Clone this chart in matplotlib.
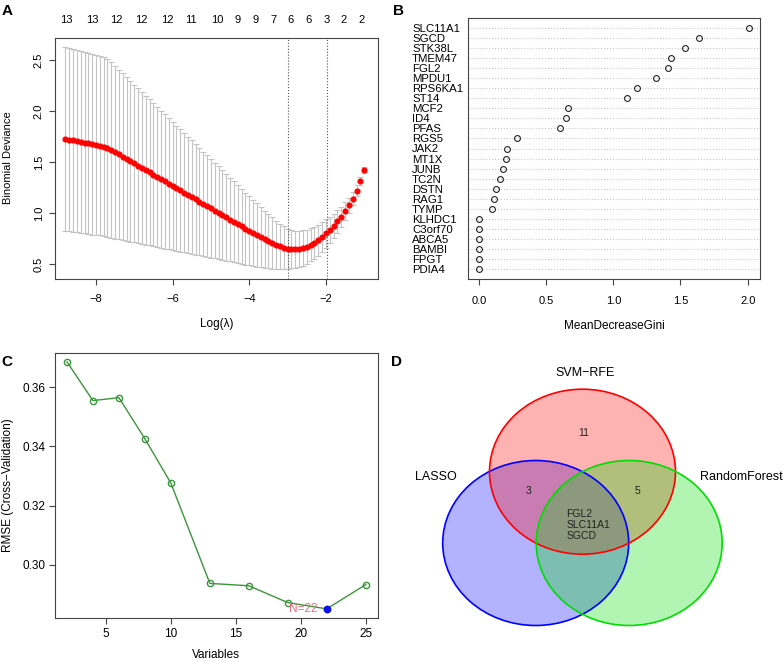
import numpy as np
import matplotlib
matplotlib.use('Agg')
import matplotlib.pyplot as plt
from matplotlib.patches import Ellipse

plt.rcParams['font.family'] = ['Liberation Sans', 'DejaVu Sans']

# ---- A: LASSO cross-validation ----
log_lambda = [-8.8, -8.7, -8.6, -8.5, -8.4, -8.3, -8.2, -8.1, -8.0,
              -7.9, -7.8, -7.7, -7.6, -7.5, -7.4, -7.3, -7.2, -7.1, -7.0,
              -6.9, -6.8, -6.7, -6.6, -6.5, -6.4, -6.3, -6.2, -6.1, -6.0,
              -5.9, -5.8, -5.7, -5.6, -5.5, -5.4, -5.3, -5.2, -5.1, -5.0,
              -4.9, -4.8, -4.7, -4.6, -4.5, -4.4, -4.3, -4.2, -4.1, -4.0,
              -3.9, -3.8, -3.7, -3.6, -3.5, -3.4, -3.3, -3.2, -3.1, -3.0,
              -2.9, -2.8, -2.7, -2.6, -2.5, -2.4, -2.3, -2.2, -2.1, -2.0,
              -1.9, -1.8, -1.7, -1.6, -1.5, -1.4, -1.3, -1.2, -1.1, -1.0]
cv_mean = [1.725, 1.718, 1.711, 1.704, 1.697, 1.690, 1.683, 1.675, 1.668,
           1.660, 1.650, 1.636, 1.617, 1.596, 1.574, 1.552, 1.530, 1.508, 1.486,
           1.464, 1.442, 1.420, 1.398, 1.376, 1.354, 1.332, 1.310, 1.288, 1.266,
           1.244, 1.222, 1.200, 1.178, 1.156, 1.134, 1.112, 1.090, 1.068, 1.046,
           1.024, 1.002, 0.980, 0.958, 0.936, 0.914, 0.892, 0.870, 0.848, 0.826,
           0.805, 0.784, 0.763, 0.743, 0.723, 0.705, 0.688, 0.673, 0.660, 0.650,
           0.644, 0.643, 0.648, 0.657, 0.670, 0.687, 0.708, 0.733, 0.765, 0.800,
           0.835, 0.875, 0.918, 0.965, 1.020, 1.075, 1.140, 1.220, 1.310, 1.420]
cv_se = [0.900, 0.898, 0.896, 0.894, 0.892, 0.890, 0.888, 0.886, 0.883,
         0.880, 0.878, 0.875, 0.861, 0.846, 0.832, 0.817, 0.803, 0.788, 0.774,
         0.759, 0.745, 0.730, 0.716, 0.701, 0.687, 0.672, 0.658, 0.643, 0.629,
         0.614, 0.600, 0.585, 0.571, 0.556, 0.542, 0.527, 0.513, 0.498, 0.484,
         0.469, 0.455, 0.440, 0.426, 0.411, 0.397, 0.382, 0.368, 0.353, 0.339,
         0.324, 0.310, 0.295, 0.281, 0.266, 0.252, 0.237, 0.223, 0.208, 0.195,
         0.188, 0.182, 0.177, 0.172, 0.167, 0.162, 0.157, 0.152, 0.146, 0.140,
         0.130, 0.120, 0.110, 0.098, 0.086, 0.074, 0.062, 0.050, 0.040, 0.030]
lambda_min = -3.0
lambda_1se = -1.98
nz_pos = [-8.77, -8.10, -7.46, -6.81, -6.15, -5.52, -4.84, -4.31, -3.84,
          -3.38, -2.93, -2.45, -1.99, -1.53, -1.07]
nz_count = [13, 13, 12, 12, 12, 11, 10, 9, 9, 7, 6, 6, 3, 2, 2]

# ---- B: random forest importance ----
genes = ['SLC11A1', 'SGCD', 'STK38L', 'TMEM47', 'FGL2', 'MPDU1', 'RPS6KA1',
         'ST14', 'MCF2', 'ID4', 'PFAS', 'RGS5', 'JAK2', 'MT1X', 'JUNB', 'TC2N',
         'DSTN', 'RAG1', 'TYMP', 'KLHDC1', 'C3orf70', 'ABCA5', 'BAMBI', 'FPGT',
         'PDIA4']
gini = [2.01, 1.64, 1.53, 1.43, 1.41, 1.32, 1.18, 1.10, 0.66, 0.65, 0.60,
        0.28, 0.21, 0.20, 0.18, 0.156, 0.126, 0.114, 0.094, 0.0, 0.0, 0.0,
        0.0, 0.0, 0.0]

# ---- C: SVM-RFE ----
n_vars = [2, 4, 6, 8, 10, 13, 16, 19, 22, 25]
rmse = [0.3686, 0.3555, 0.3565, 0.3426, 0.3276, 0.2937, 0.2929, 0.2872,
        0.2851, 0.2933]
best_n = 22

# ---- D: Venn ----
set_names = ['SVM-RFE', 'LASSO', 'RandomForest']
only_svm = '11'
svm_lasso = '3'
svm_rf = '5'
common = ['FGL2', 'SLC11A1', 'SGCD']

W, H = 783, 662
fig = plt.figure(figsize=(W / 100, H / 100), dpi=100)


def fx(x):
    return x / W


def fy(y):
    return 1 - y / H


def box(l, t, r, b):
    return [fx(l), fy(b), (r - l) / W, (b - t) / H]


spine_col = '#444444'

# Panel A
axA = fig.add_axes(box(55, 38, 378, 279))
axA.errorbar(log_lambda, cv_mean, yerr=cv_se, fmt='none', ecolor='#c4c4c4',
             elinewidth=0.8, capsize=2.0, capthick=0.8)
axA.plot(log_lambda, cv_mean, 'o', color='red', ms=3.4, mec='red', zorder=3)
axA.axvline(lambda_min, color='#555555', ls=':', lw=0.8)
axA.axvline(lambda_1se, color='#555555', ls=':', lw=0.8)
axA.set_xlim(-9.07, -0.64)
axA.set_ylim(0.353, 2.716)
axA.set_xticks([-8, -6, -4, -2])
axA.set_yticks([0.5, 1.0, 1.5, 2.0, 2.5])
axA.set_yticklabels(['0.5', '1.0', '1.5', '2.0', '2.5'], rotation=90, va='center')
axA.tick_params(labelsize=8, length=4, color=spine_col, pad=4)
axA.tick_params(axis='x', pad=7)
sec = axA.secondary_xaxis('top')
sec.set_xticks(nz_pos)
sec.set_xticklabels([str(v) for v in nz_count])
sec.tick_params(length=0, pad=9, labelsize=8)
sec.spines['top'].set_visible(False)
for s in axA.spines.values():
    s.set_color(spine_col)
fig.text(fx(216.5), fy(324), 'Log(\u03bb)', ha='center', va='center', fontsize=8.5)
fig.text(fx(8), fy(158), 'Binomial Deviance', ha='center', va='center',
         rotation=90, fontsize=8)

# Panel B
axB = fig.add_axes(box(467.7, 17.7, 760, 279.3))
ypos = np.arange(len(genes), 0, -1)
for yy in ypos:
    axB.axhline(yy, color='#c8c8c8', ls=':', lw=0.8, zorder=1)
axB.plot(gini, ypos, 'o', mfc='none', mec='#222222', ms=4.2, mew=0.8, zorder=2)
axB.set_xlim(-0.084, 2.092)
axB.set_ylim(0, len(genes) + 1)
axB.set_xticks([0.0, 0.5, 1.0, 1.5, 2.0])
axB.set_yticks(ypos)
axB.set_yticklabels(genes, ha='left', fontsize=8.2)
axB.tick_params(axis='y', length=0, pad=40)
axB.tick_params(axis='x', labelsize=8, length=4, color=spine_col, pad=8)
for s in axB.spines.values():
    s.set_color(spine_col)
fig.text(fx(614), fy(326), 'MeanDecreaseGini', ha='center', va='center', fontsize=8.5)

# Panel C
axC = fig.add_axes(box(55, 352.7, 377.7, 618.3))
axC.plot(n_vars, rmse, '-o', color='#3a963a', mfc='none', mec='#3a963a',
         ms=4.5, mew=1.0, lw=1.0)
bi = n_vars.index(best_n)
axC.plot(n_vars[bi], rmse[bi], 'o', color='#1010ee', ms=4.5, zorder=4)
axC.annotate('N=%d' % best_n, (n_vars[bi], rmse[bi]), xytext=(-7, 0),
             textcoords='offset points', ha='right', va='center',
             color='#f06a86', fontsize=8.5)
axC.set_xlim(1.08, 25.92)
axC.set_ylim(0.2819, 0.3717)
axC.set_xticks([5, 10, 15, 20, 25])
axC.set_yticks([0.30, 0.32, 0.34, 0.36])
axC.set_yticklabels(['0.30', '0.32', '0.34', '0.36'])
axC.tick_params(labelsize=8.5, length=4, color=spine_col, pad=3)
for s in axC.spines.values():
    s.set_color(spine_col)
fig.text(fx(216), fy(655), 'Variables', ha='center', va='center', fontsize=8.5)
fig.text(fx(8), fy(485), 'RMSE (Cross\u2212Validation)', ha='center', va='center',
         rotation=90, fontsize=8.5)

# Panel D (venn, axes in pixel units)
axD = fig.add_axes(box(400, 330, 783, 662))
axD.set_xlim(400, 783)
axD.set_ylim(662, 330)
axD.axis('off')
circles = [((535.7, 543.0), '#0000ff'),   # LASSO
           ((582.5, 471.7), '#ff0000'),   # SVM-RFE
           ((629.2, 543.0), '#00dd00')]   # RandomForest
for c, col in circles:
    axD.add_patch(Ellipse(c, 186, 165, facecolor=col, alpha=0.3, lw=0))
for c, col in circles:
    axD.add_patch(Ellipse(c, 186, 165, fill=False, edgecolor=col, lw=1.2))
axD.text(585, 373, set_names[0].replace('-', '\u2212'), ha='center', va='center', fontsize=9)
axD.text(436, 477, set_names[1], ha='center', va='center', fontsize=9)
axD.text(741, 477, set_names[2], ha='center', va='center', fontsize=9)
axD.text(584, 433, only_svm, ha='center', va='center', fontsize=7.5, color='#222222')
axD.text(529, 491, svm_lasso, ha='center', va='center', fontsize=7.5, color='#222222')
axD.text(637, 491, svm_rf, ha='center', va='center', fontsize=7.5, color='#222222')
axD.text(566.5, 525, '\n'.join(common), ha='left', va='center', fontsize=7.5,
         color='#222222', linespacing=1.15)

# panel letters
for lab, x, y in [('A', 7, 11), ('B', 398, 11), ('C', 7, 362), ('D', 397, 362)]:
    fig.text(fx(x), fy(y), lab, ha='center', va='center', fontsize=11,
             fontweight='bold')

plt.savefig('out.png', dpi=100)
